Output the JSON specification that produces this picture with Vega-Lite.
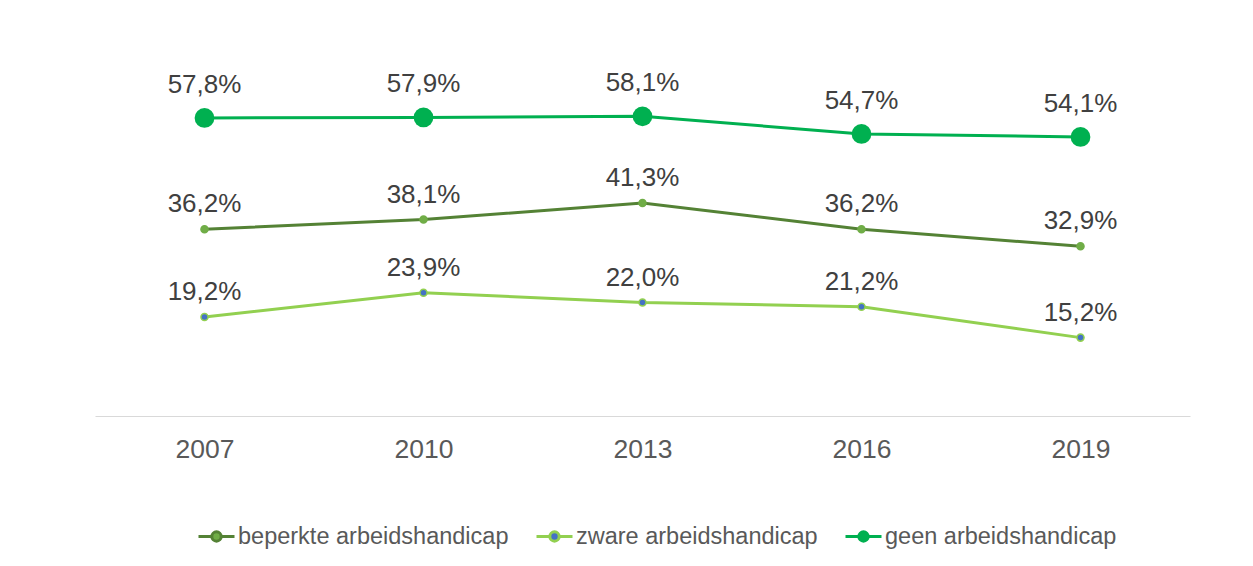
{
  "$schema": "https://vega.github.io/schema/vega-lite/v6.json",
  "autosize": "none",
  "width": 1095,
  "height": 361,
  "padding": {"left": 95, "top": 55, "right": 63, "bottom": 150},
  "background": "white",
  "config": {
    "font": "Liberation Sans",
    "view": {"stroke": null}
  },
  "data": {
    "values": [
      {"year": "2007", "series": "beperkte arbeidshandicap", "value": 36.2},
      {"year": "2010", "series": "beperkte arbeidshandicap", "value": 38.1},
      {"year": "2013", "series": "beperkte arbeidshandicap", "value": 41.3},
      {"year": "2016", "series": "beperkte arbeidshandicap", "value": 36.2},
      {"year": "2019", "series": "beperkte arbeidshandicap", "value": 32.9},
      {"year": "2007", "series": "zware arbeidshandicap", "value": 19.2},
      {"year": "2010", "series": "zware arbeidshandicap", "value": 23.9},
      {"year": "2013", "series": "zware arbeidshandicap", "value": 22.0},
      {"year": "2016", "series": "zware arbeidshandicap", "value": 21.2},
      {"year": "2019", "series": "zware arbeidshandicap", "value": 15.2},
      {"year": "2007", "series": "geen arbeidshandicap", "value": 57.8},
      {"year": "2010", "series": "geen arbeidshandicap", "value": 57.9},
      {"year": "2013", "series": "geen arbeidshandicap", "value": 58.1},
      {"year": "2016", "series": "geen arbeidshandicap", "value": 54.7},
      {"year": "2019", "series": "geen arbeidshandicap", "value": 54.1}
    ]
  },
  "transform": [
    {"calculate": "replace(format(datum.value, '.1f'), '.', ',') + '%'", "as": "label"}
  ],
  "encoding": {
    "x": {
      "field": "year",
      "type": "ordinal",
      "scale": {"type": "point", "padding": 0.5},
      "axis": {
        "title": null,
        "labelAngle": 0,
        "ticks": false,
        "tickSize": 0,
        "domainColor": "#D9D9D9",
        "domainWidth": 1,
        "labelFontSize": 26.5,
        "labelColor": "#595959",
        "labelBaseline": "alphabetic",
        "labelPadding": 41,
        "grid": false
      }
    },
    "y": {
      "field": "value",
      "type": "quantitative",
      "scale": {"domain": [0, 70], "nice": false, "zero": true},
      "axis": null
    }
  },
  "layer": [
    {
      "mark": {"type": "line", "strokeWidth": 3},
      "encoding": {
        "color": {
          "field": "series",
          "type": "nominal",
          "scale": {
            "domain": ["beperkte arbeidshandicap", "zware arbeidshandicap", "geen arbeidshandicap"],
            "range": ["#548235", "#92D050", "#00B050"]
          },
          "legend": {
            "title": null,
            "orient": "none",
            "direction": "horizontal",
            "legendX": 102,
            "legendY": 462,
            "padding": 0,
            "symbolType": "M-1,0H-0.3M0.3,0H1M-0.26,0A0.26,0.26 0 1,0 0.26,0A0.26,0.26 0 1,0 -0.26,0Z",
            "symbolSize": 1296,
            "symbolStrokeWidth": 3,
            "labelFontSize": 23.5,
            "labelLimit": 0,
            "labelColor": "#595959",
            "labelOffset": 2,
            "columnPadding": 21,
            "encode": {
              "symbols": {
                "update": {
                  "fill": {"signal": "datum.value == 'zware arbeidshandicap' ? '#4472C4' : (datum.value == 'geen arbeidshandicap' ? '#00B050' : '#70AD47')"},
                  "opacity": {"value": 1}
                }
              }
            }
          }
        }
      }
    },
    {
      "transform": [{"filter": "datum.series != 'geen arbeidshandicap'"}],
      "mark": {"type": "point", "filled": true, "size": 50, "strokeWidth": 1.5, "opacity": 1},
      "encoding": {
        "fill": {
          "field": "series",
          "type": "nominal",
          "scale": {
            "domain": ["beperkte arbeidshandicap", "zware arbeidshandicap", "geen arbeidshandicap"],
            "range": ["#70AD47", "#4472C4", "#00B050"]
          },
          "legend": null
        },
        "stroke": {
          "field": "series",
          "type": "nominal",
          "scale": {
            "domain": ["beperkte arbeidshandicap", "zware arbeidshandicap", "geen arbeidshandicap"],
            "range": ["#70AD47", "#92D050", "#00B050"]
          },
          "legend": null
        }
      }
    },
    {
      "transform": [{"filter": "datum.series == 'geen arbeidshandicap'"}],
      "mark": {"type": "point", "filled": true, "size": 390, "color": "#00B050", "opacity": 1}
    },
    {
      "transform": [{"filter": "datum.series != 'geen arbeidshandicap'"}],
      "mark": {"type": "text", "fontSize": 26, "color": "#404040", "baseline": "alphabetic", "dy": -17},
      "encoding": {"text": {"field": "label"}}
    },
    {
      "transform": [{"filter": "datum.series == 'geen arbeidshandicap'"}],
      "mark": {"type": "text", "fontSize": 26, "color": "#404040", "baseline": "alphabetic", "dy": -25},
      "encoding": {"text": {"field": "label"}}
    }
  ]
}
